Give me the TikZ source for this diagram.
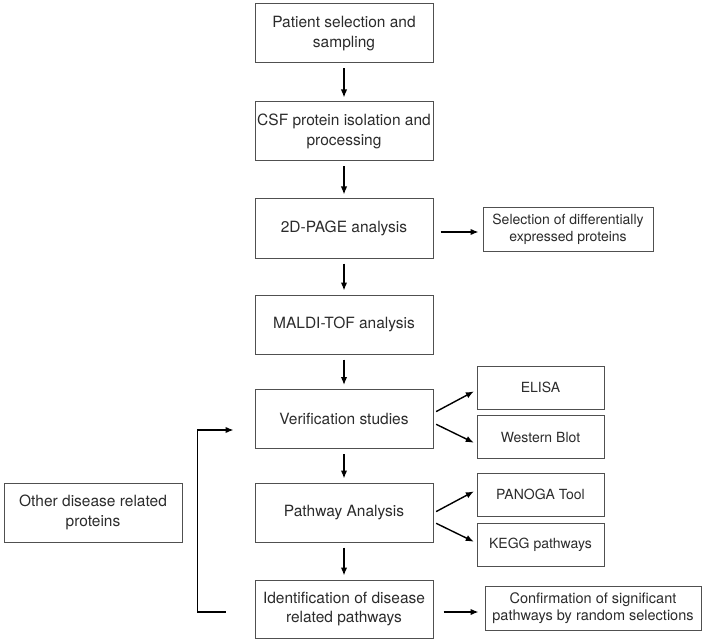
\documentclass[tikz,border=0pt]{standalone}
\usepackage{fontspec}
\setmainfont{TeX Gyre Heros}
\usetikzlibrary{calc,arrows.meta}
\definecolor{boxline}{HTML}{505050}
\definecolor{txt}{HTML}{2B2B2B}

\begin{document}
\begin{tikzpicture}[x=1pt,y=1pt,
    stage/.style={draw=boxline, line width=1pt, text=txt, minimum width=178pt,
      minimum height=59pt, inner sep=1pt, align=center,
      font=\fontsize{15.5}{19.5}\selectfont},
    side/.style={draw=boxline, line width=1pt, text=txt, minimum height=43pt,
      inner sep=1pt, align=center, font=\fontsize{14}{17}\selectfont},
    arr/.style={-{Latex[length=8pt,width=6.5pt]}, line width=1.4pt, shorten <=5pt, shorten >=4pt},
    diag/.style={-{Latex[length=8pt,width=6.5pt]}, line width=1.4pt, shorten <=3pt, shorten >=3pt}]
    \useasboundingbox (0,0) rectangle (706,-644);
    % main column
    \node[stage] (pat)   at (344,-33.5)  {Patient selection and\\sampling};
    \node[stage] (csf)   at (344,-131.5) {CSF protein isolation and\\processing};
    \node[stage] (page)  at (344,-228.5) {2D-PAGE analysis};
    \node[stage] (maldi) at (344,-324.5) {MALDI-TOF analysis};
    \node[stage] (ver)   at (344,-419)   {Verification studies};
    \node[stage] (pwa)   at (344,-512.5) {Pathway Analysis};
    \node[stage, minimum height=58pt] (idn) at (344,-609) {Identification of disease\\related pathways};
    % side boxes
    \node[side, minimum width=170pt] (sel) at (568,-229.5) {Selection of differentially\\expressed proteins};
    \node[side, minimum width=127pt] (elisa) at (540.5,-387.5) {ELISA};
    \node[side, minimum width=127pt] (wb)    at (540.5,-437)   {Western Blot};
    \node[side, minimum width=127pt] (pan)   at (540.5,-494.5) {PANOGA Tool};
    \node[side, minimum width=127pt] (kegg)  at (540.5,-545)   {KEGG pathways};
    \node[side, minimum width=216pt, minimum height=44pt, font=\fontsize{14.5}{17}\selectfont] (conf) at (593,-608) {Confirmation of significant\\pathways by random selections};
    \node[stage] (oth) at (93,-512.5) {Other disease related\\proteins};
    % arrows
    \foreach \a/\b in {pat/csf, csf/page, page/maldi, maldi/ver, ver/pwa, pwa/idn}
      \draw[arr] (\a) -- (\b);
    \draw[arr, shorten <=7pt] ([yshift=-3.5pt]page.east) -- ([yshift=-2.5pt]sel.west);
    \draw[arr, shorten <=10pt, shorten >=6pt] ([yshift=-3pt]idn.east) -- ([yshift=-4pt]conf.west);
    \draw[diag] ([yshift=6pt]ver.east) -- ([yshift=-2.5pt]elisa.west);
    \draw[diag] ([yshift=-4pt]ver.east) -- ([yshift=-7pt]wb.west);
    \draw[diag] ([yshift=-0.5pt]pwa.east) -- ([yshift=4.5pt]pan.west);
    \draw[diag] ([yshift=-9.5pt]pwa.east) -- ([yshift=2pt]kegg.west);
    \draw[-{Latex[length=8pt,width=6.5pt]}, line width=1.4pt] ([shift={(-29,-3)}]idn.west) -- ++(-28,0) |- ([shift={(-21,-11)}]ver.west);
\end{tikzpicture}
\end{document}
